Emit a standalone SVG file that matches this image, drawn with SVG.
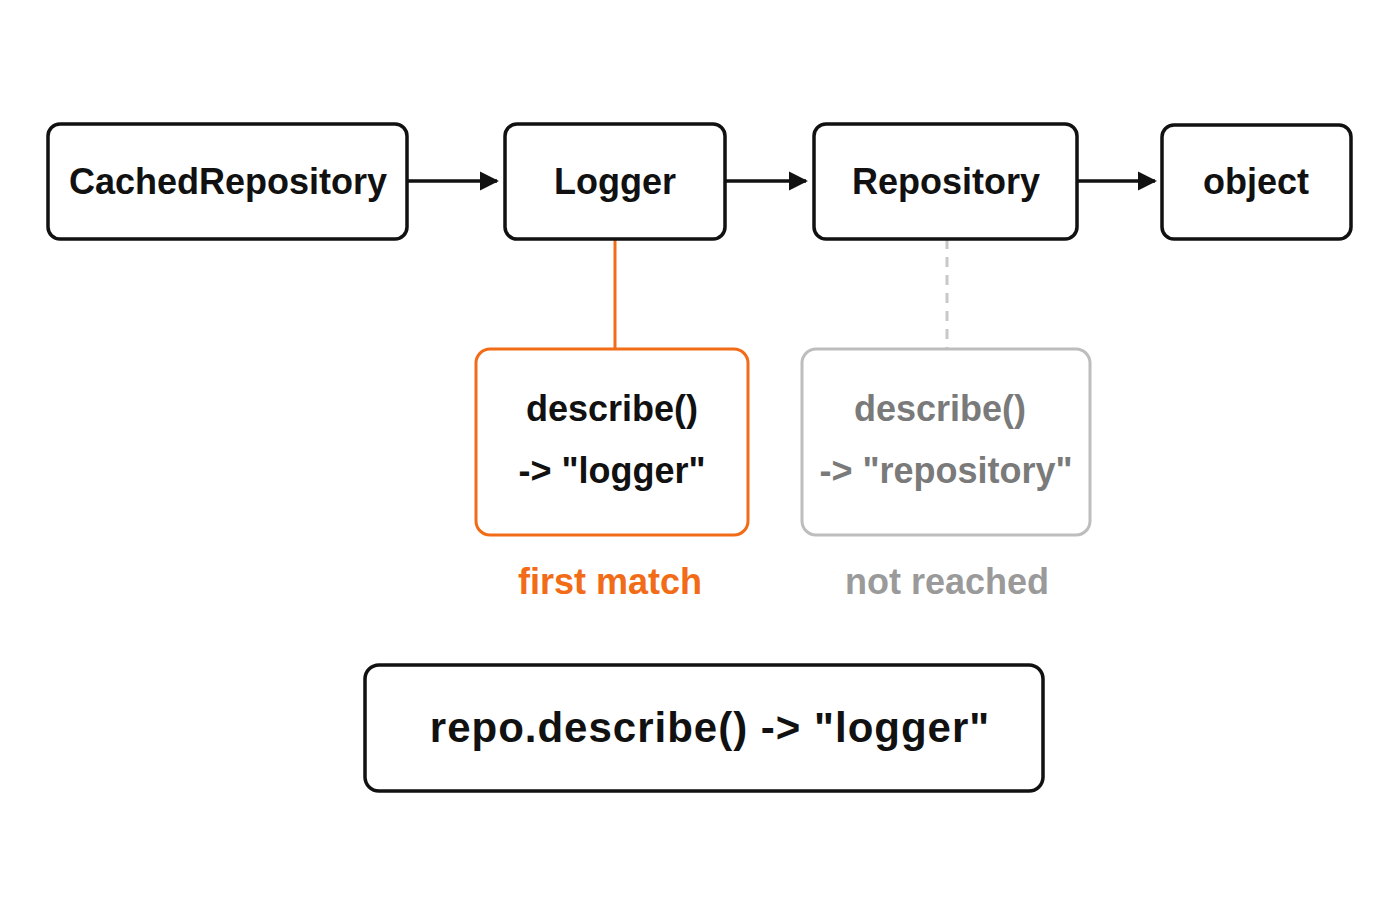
<svg xmlns="http://www.w3.org/2000/svg" width="1400" height="900" viewBox="0 0 1400 900">
<style>
.n{fill:#fff;stroke:#111;stroke-width:3.5}
.t{font-family:"Liberation Sans",Arial,sans-serif;font-weight:bold;font-size:36px;text-anchor:middle;fill:#111}
.c{stroke:#111;stroke-width:3.5;fill:none}
</style>
<defs><marker id="ah" viewBox="0 0 10 10" refX="9" refY="5" markerWidth="5.5" markerHeight="5.5" orient="auto"><path d="M0,0L10,5L0,10z" fill="#111"/></marker></defs>
<rect width="1400" height="900" fill="#fff"/>
<g id="connectors">
<line class="c" x1="407" y1="181" x2="497" y2="181" marker-end="url(#ah)"/>
<line class="c" x1="725" y1="181" x2="806" y2="181" marker-end="url(#ah)"/>
<line class="c" x1="1077" y1="181" x2="1155" y2="181" marker-end="url(#ah)"/>
<line x1="615" y1="239" x2="615" y2="349" stroke="#f26b16" stroke-width="3"/>
<line x1="947" y1="239" x2="947" y2="349" stroke="#c8c8c8" stroke-width="3" stroke-dasharray="10 8"/>
</g>
<g id="cached"><rect class="n" x="48" y="124" width="359" height="115" rx="12"/><text class="t" x="228" y="194">CachedRepository</text></g>
<g id="logger"><rect class="n" x="505" y="124" width="220" height="115" rx="12"/><text class="t" x="615" y="194">Logger</text></g>
<g id="repository"><rect class="n" x="814" y="124" width="263" height="115" rx="12"/><text class="t" x="946" y="194">Repository</text></g>
<g id="object"><rect class="n" x="1162" y="125" width="189" height="114" rx="12"/><text class="t" x="1256" y="194">object</text></g>
<g id="loggerDescribe"><rect x="476" y="349" width="272" height="186" rx="14" fill="#fff" stroke="#f26b16" stroke-width="3"/>
<text class="t" x="612" y="421">describe()</text><text class="t" x="612" y="483">-&gt; "logger"</text></g>
<g id="repoDescribe"><rect x="802" y="349" width="288" height="186" rx="14" fill="#fff" stroke="#bdbdbd" stroke-width="3"/>
<text class="t" x="940" y="421" style="fill:#7a7a7a">describe()</text><text class="t" x="946" y="483" style="fill:#7a7a7a">-&gt; "repository"</text></g>
<text class="t" x="610" y="594" style="fill:#f26b16">first match</text>
<text class="t" x="947" y="594" style="fill:#9a9a9a">not reached</text>
<g id="result"><rect class="n" x="365" y="665" width="678" height="126" rx="14"/><text class="t" x="710" y="742" style="font-size:42px;letter-spacing:1px">repo.describe() -&gt; "logger"</text></g>
</svg>
